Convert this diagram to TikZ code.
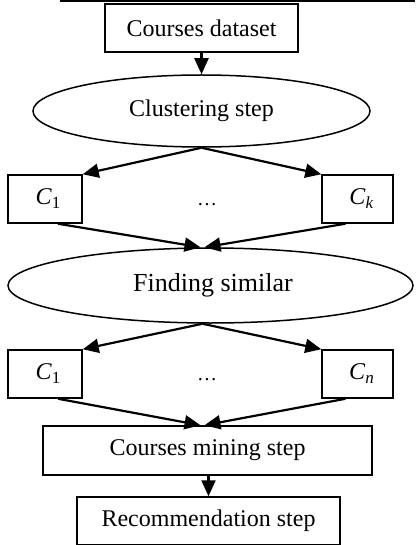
\documentclass[tikz,border=0pt]{standalone}
\usepackage{fontspec}
\setmainfont{Liberation Serif}
\usetikzlibrary{arrows.meta,shapes.geometric,calc}
\newcommand{\cvar}[1]{\textit{C}\raisebox{-4pt}{\fontsize{17}{19}\selectfont #1}}
\begin{document}
\begin{tikzpicture}[x=1pt,y=-1pt,
  every node/.style={font=\fontsize{24}{28}\selectfont, inner sep=0pt},
  box/.style={draw, line width=1.5pt, rectangle},
  oval/.style={draw, line width=1.5pt, ellipse},
  arr/.style={line width=2.2pt, -{Triangle[length=16pt,width=14pt]}}]
\useasboundingbox (0,0) rectangle (415,545);
% cropped table edge at the top
\draw[line width=2pt] (60,1) -- (415,1);
\foreach \x in {200,272,378} \draw[line width=1.4pt] (\x,0) -- (\x,2);
% nodes
\node[box, minimum width=193pt, minimum height=48pt] (ds) at (201.5,28) {Courses dataset};
\node[oval, minimum width=337pt, minimum height=72pt] (cl) at (201.5,111) {Clustering step};
\node[box, minimum width=74pt, minimum height=48pt, text width=60pt, align=center] (c1) at (45,199) {\hspace*{6pt}\cvar{1}};
\node (d1) at (207,205) {\fontsize{20}{24}\selectfont\ldots};
\node[box, minimum width=71pt, minimum height=48pt] (ck) at (357.5,199) {\hspace*{8pt}\cvar{\textit{k}}};
\node[oval, minimum width=405pt, minimum height=75pt, font=\fontsize{26}{30}\selectfont] (fs) at (210.5,285.5) {\hspace*{5pt}Finding similar};
\node[box, minimum width=74pt, minimum height=48pt, text width=60pt, align=center] (c2) at (45,374) {\hspace*{6pt}\cvar{1}};
\node (d2) at (207,380) {\fontsize{20}{24}\selectfont\ldots};
\node[box, minimum width=71pt, minimum height=48pt] (cn) at (357.5,374) {\hspace*{8pt}\cvar{\textit{n}}};
\node[box, minimum width=329pt, minimum height=49pt] (mi) at (207.5,450.5) {Courses mining step};
\node[box, minimum width=263pt, minimum height=48pt] (re) at (208.5,521) {Recommendation step};
% helper coordinates
\coordinate (c1o) at ($(c1.south)+(13,0)$);
\coordinate (cko) at ($(ck.south)+(-12,0)$);
\coordinate (c2o) at ($(c2.south)+(13,0)$);
\coordinate (cno) at ($(cn.south)+(-12,0)$);
\coordinate (fsl) at ($(fs.north)+(-10,0)$);
\coordinate (fsr) at ($(fs.north)+(-6,0)$);
\coordinate (mil) at ($(mi.north)+(-7,0)$);
\coordinate (mir) at ($(mi.north)+(-3,0)$);
\coordinate (fsb) at ($(fs.south)+(-8,0)$);
% connectors
\draw[arr] (ds.south) -- (cl.north);
\draw[arr] (cl.south) -- (c1.north east);
\draw[arr] (cl.south) -- (ck.north west);
\draw[arr] (c1o) -- (fsl);
\draw[arr] (cko) -- (fsr);
\draw[arr] (fsb) -- (c2.north east);
\draw[arr] (fsb) -- (cn.north west);
\draw[arr] (c2o) -- (mil);
\draw[arr] (cno) -- (mir);
\draw[arr] (mi.south -| re.north) -- (re.north);
\end{tikzpicture}
\end{document}
